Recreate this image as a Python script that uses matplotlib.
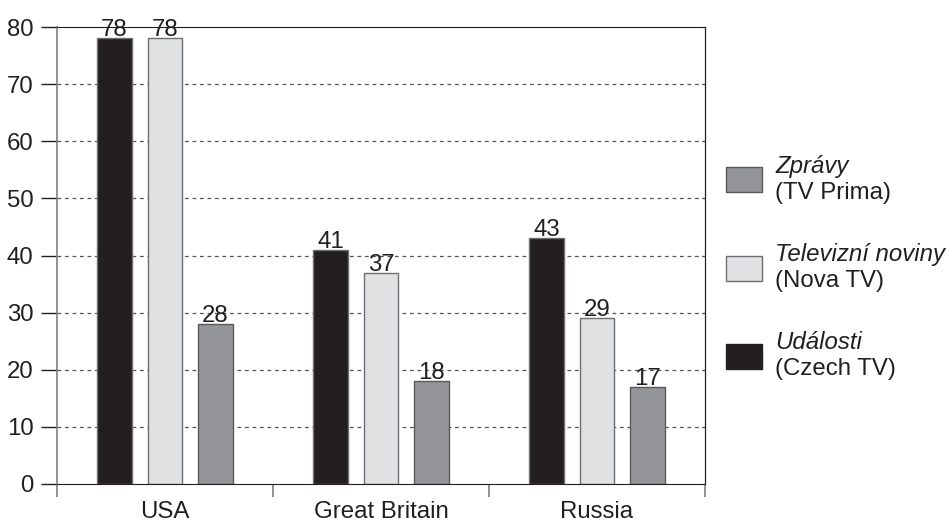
import matplotlib.pyplot as plt
from matplotlib.patches import Rectangle
import numpy as np

plt.rcParams['font.family'] = ['Liberation Sans', 'DejaVu Sans']

countries = ['USA', 'Great Britain', 'Russia']
udalosti = [78, 41, 43]      # Czech TV
televizni = [78, 37, 29]     # Nova TV
zpravy = [28, 18, 17]        # TV Prima
y_ticks = [0, 10, 20, 30, 40, 50, 60, 70, 80]

c_black = '#231f20'
c_light = '#e0e1e2'
c_gray = '#939598'
fs = 17.3

fig = plt.figure(figsize=(9.49, 5.23), dpi=100)
ax = fig.add_axes([57 / 949, 1 - 484 / 523, (705 - 57) / 949, (484 - 27) / 523])

x = np.arange(len(countries))
w = 0.162
off = 0.234
series = [
    (udalosti, -off, c_black, '#6d6e71'),
    (televizni, 0, c_light, '#6d6e71'),
    (zpravy, off, c_gray, '#58595b'),
]
for vals, dx, fc, ec in series:
    bars = ax.bar(x + dx, vals, w, color=fc, edgecolor=ec, linewidth=1.0, zorder=3)
    for b, v in zip(bars, vals):
        ax.annotate(str(v), (b.get_x() + b.get_width() / 2, v), xytext=(0, 1.5),
                    textcoords='offset points', ha='center', va='baseline',
                    fontsize=fs, color='#231f20', zorder=4)

ax.set_xlim(-0.5, 2.5)
ax.set_ylim(0, 80)
ax.set_yticks(y_ticks)
ax.tick_params(axis='y', direction='out', length=11.5, width=1, pad=5.5,
               labelsize=fs, colors='#231f20')
ax.set_xticks([-0.5, 0.5, 1.5, 2.5])
ax.set_xticklabels([])
ax.set_xticks(x, minor=True)
ax.set_xticklabels(countries, minor=True, fontsize=fs, color='#231f20')
ax.tick_params(axis='x', which='major', direction='out', length=9.5, width=1.2, color='#808080')
ax.tick_params(axis='x', which='minor', length=0, pad=12.5)

for yv in y_ticks[1:-1]:
    ax.axhline(yv, color='#555555', lw=0.9, dashes=(3, 3), zorder=1)

ax.spines['left'].set_color('#808080')
ax.spines['left'].set_linewidth(1.2)
ax.spines['bottom'].set_color('#231f20')
ax.spines['top'].set_color('#231f20')
ax.spines['right'].set_color('#231f20')
for s in ax.spines.values():
    s.set_zorder(5)

sec = ax.secondary_yaxis('right')
sec.set_yticks(y_ticks)
sec.set_yticklabels([])
sec.tick_params(direction='in', length=2, width=0.8)

# legend drawn by hand (italic first line, plain second line)
legend_items = [
    ('Zprávy', '(TV Prima)', c_gray, '#58595b', 179.5),
    ('Televizní noviny', '(Nova TV)', c_light, '#6d6e71', 268.5),
    ('Události', '(Czech TV)', c_black, '#231f20', 356),
]
for top, bottom, fc, ec, yc in legend_items:
    fig.add_artist(Rectangle((726 / 949, 1 - (yc + 12.5) / 523), 36 / 949, 25 / 523,
                             transform=fig.transFigure, facecolor=fc, edgecolor=ec, lw=1))
    fig.text(775 / 949, 1 - (yc - 7) / 523, top, fontsize=fs, style='italic',
             ha='left', va='baseline', color='#231f20')
    fig.text(775 / 949, 1 - (yc + 19) / 523, bottom, fontsize=fs,
             ha='left', va='baseline', color='#231f20')

fig.savefig('out.png', dpi=100)
